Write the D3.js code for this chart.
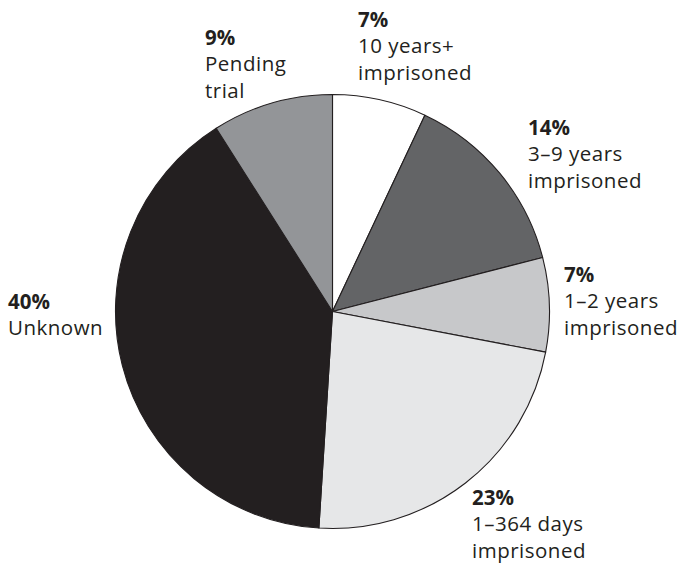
<!DOCTYPE html>
<html>
<head>
<meta charset="utf-8">
<script src="https://cdn.jsdelivr.net/npm/d3@7"></script>
<style>
  html, body { margin: 0; padding: 0; background: #fff; }
  text { font-family: "Open Sans", "Noto Sans", sans-serif; fill: #231f20; }
</style>
</head>
<body>
<svg id="chart" width="681" height="565"></svg>
<script>
// Data
const categories = ["10 years+ imprisoned", "3–9 years imprisoned", "1–2 years imprisoned", "1–364 days imprisoned", "Unknown", "Pending trial"];
const values = [7, 14, 7, 23, 40, 9];
const labelLines = [
  ["10 years+", "imprisoned"],
  ["3–9 years", "imprisoned"],
  ["1–2 years", "imprisoned"],
  ["1–364 days", "imprisoned"],
  ["Unknown"],
  ["Pending", "trial"]
];
const colors = ["#ffffff", "#636466", "#c7c8ca", "#e6e7e8", "#231f20", "#939598"];

// Layout (label anchor: x, first baseline y)
const labelPos = [
  [358, 27], [528, 135], [564, 282], [472, 505], [8, 309], [205, 45]
];

const svg = d3.select("#chart");
const cx = 332.5, cy = 311.5, r = 217;

const pie = d3.pie().sort(null).value(d => d)(values);
const arc = d3.arc().innerRadius(0).outerRadius(r);

const g = svg.append("g").attr("transform", `translate(${cx},${cy})`);
g.selectAll("path")
  .data(pie)
  .join("path")
  .attr("d", arc)
  .attr("fill", (d, i) => colors[i])
  .attr("stroke", "#231f20")
  .attr("stroke-width", 1.1)
  .attr("stroke-linejoin", "round");

const lh = 26.3;
const labels = svg.selectAll("text.lbl")
  .data(values)
  .join("text")
  .attr("class", "lbl")
  .attr("x", (d, i) => labelPos[i][0])
  .attr("y", (d, i) => labelPos[i][1])
  .attr("font-size", 20.5)
  .style("letter-spacing", "0.5px");

labels.each(function(d, i) {
  const t = d3.select(this);
  t.append("tspan")
    .attr("x", labelPos[i][0])
    .attr("font-weight", "bold")
    .style("letter-spacing", "0px")
    .text(d + "%");
  labelLines[i].forEach((line, j) => {
    t.append("tspan")
      .attr("x", labelPos[i][0])
      .attr("dy", lh)
      .text(line);
  });
});
</script>
</body>
</html>
